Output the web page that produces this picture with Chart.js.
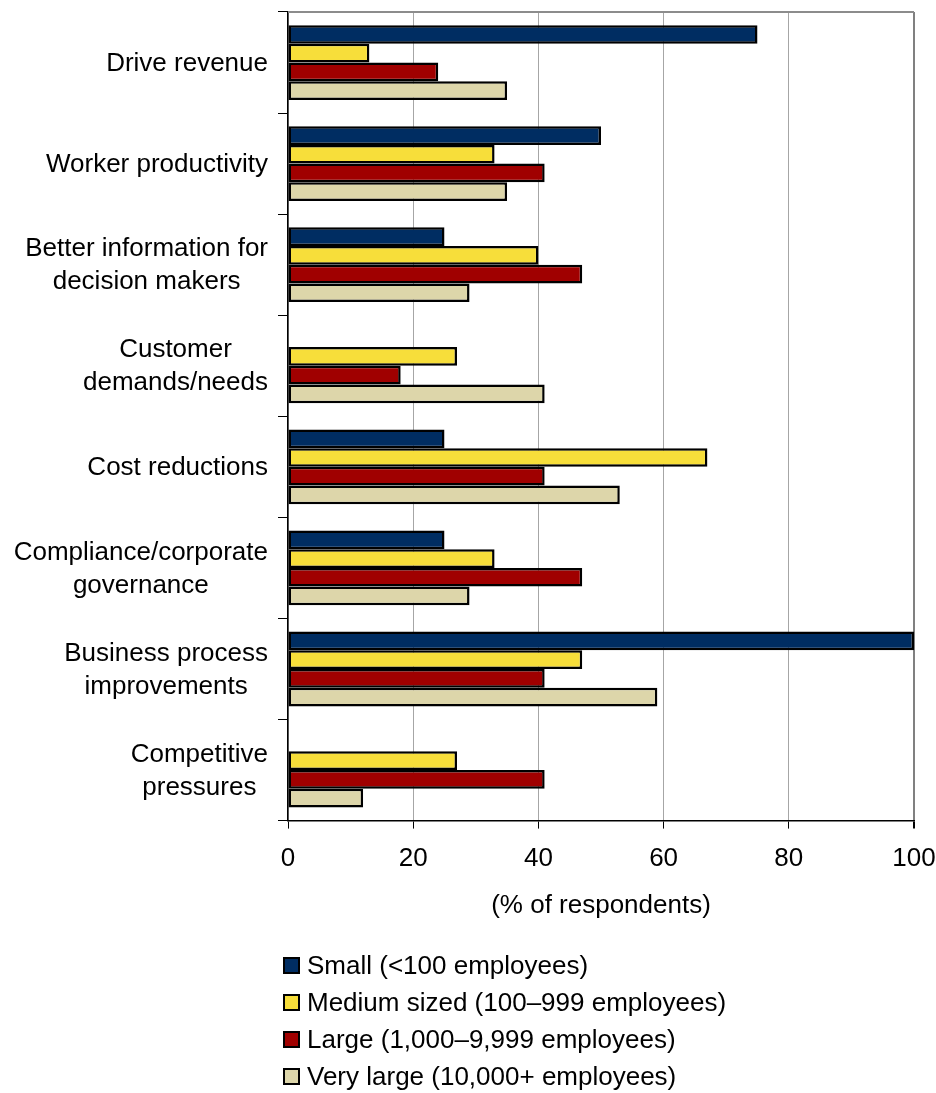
<!DOCTYPE html>
<html>
<head>
<meta charset="utf-8">
<script src="https://cdn.jsdelivr.net/npm/chart.js@4/dist/chart.umd.min.js"></script>
<style>
  body { margin: 0; background: #fff; }
  #wrap { width: 936px; height: 1093px; position: relative; }
</style>
</head>
<body>
<div id="wrap"><canvas id="chart"></canvas></div>
<script>
const categories = [
  ["Drive revenue"],
  ["Worker productivity"],
  ["Better information for", "decision makers"],
  ["Customer", "demands/needs"],
  ["Cost reductions"],
  ["Compliance/corporate", "governance"],
  ["Business process", "improvements"],
  ["Competitive", "pressures"]
];
const seriesNames = [
  "Small (<100 employees)",
  "Medium sized (100\u2013999 employees)",
  "Large (1,000\u20139,999 employees)",
  "Very large (10,000+ employees)"
];
const small     = [75, 50, 25, null, 25, 25, 100, null];
const medium    = [13, 33, 40, 27, 67, 33, 47, 27];
const large     = [24, 41, 47, 18, 41, 47, 41, 41];
const veryLarge = [35, 35, 29, 41, 53, 29, 59, 12];
const xTicks = [0, 20, 40, 60, 80, 100];
const colors = ["#002d62", "#f7de3a", "#a00000", "#ddd6aa"];

const FONT = "Liberation Sans, Arial, sans-serif";

// category labels: lines centred on each other, block right-aligned to the axis
const catLabels = {
  id: "catLabels",
  afterDraw(chart) {
    const ctx = chart.ctx;
    const y = chart.scales.y;
    const right = chart.chartArea.left - 20;
    const lh = 33;
    ctx.save();
    ctx.font = "26px " + FONT;
    ctx.fillStyle = "#000";
    ctx.textAlign = "center";
    ctx.textBaseline = "middle";
    chart.data.labels.forEach((lines, i) => {
      const cy = y.getPixelForTick(i) + 1;
      const w = Math.max(...lines.map(l => ctx.measureText(l).width));
      const cx = right - w / 2;
      lines.forEach((l, j) => {
        ctx.fillText(l, cx, cy + (j - (lines.length - 1) / 2) * lh);
      });
    });
    ctx.restore();
  }
};

// gray top border of the plot
const frame = {
  id: "frame",
  beforeDatasetsDraw(chart) {
    const { ctx, chartArea: a } = chart;
    ctx.save();
    ctx.strokeStyle = "#8c8c8c";
    ctx.lineWidth = 2;
    ctx.beginPath();
    ctx.moveTo(a.left, a.top);
    ctx.lineTo(a.right, a.top);
    ctx.stroke();
    ctx.restore();
  }
};

// legend drawn as a single column under the axis title
const columnLegend = {
  id: "columnLegend",
  afterDraw(chart) {
    const ctx = chart.ctx;
    const top = chart.height - 127;
    ctx.save();
    ctx.font = "26px " + FONT;
    ctx.textBaseline = "middle";
    ctx.textAlign = "left";
    chart.data.datasets.forEach((ds, i) => {
      const cy = top + i * 37;
      ctx.fillStyle = ds.backgroundColor;
      ctx.fillRect(284, cy - 8, 15, 15);
      ctx.strokeStyle = "#000";
      ctx.lineWidth = 2;
      ctx.strokeRect(284, cy - 8, 15, 15);
      ctx.fillStyle = "#000";
      ctx.fillText(ds.label, 307, cy + 1);
    });
    ctx.restore();
  }
};

new Chart(document.getElementById("chart"), {
  type: "bar",
  data: {
    labels: categories,
    datasets: [small, medium, large, veryLarge].map((d, i) => ({
      label: seriesNames[i],
      data: d,
      backgroundColor: colors[i],
      borderColor: "#000",
      borderWidth: 2.5,
      borderSkipped: false,
      categoryPercentage: 0.74,
      barPercentage: 1.0
    }))
  },
  options: {
    indexAxis: "y",
    responsive: true,
    maintainAspectRatio: false,
    animation: false,
    layout: { padding: { top: 12, right: 22, left: 0, bottom: 171 } },
    plugins: {
      legend: { display: false },
      tooltip: { enabled: false }
    },
    scales: {
      x: {
        min: 0,
        max: 100,
        afterBuildTicks: s => { s.ticks = xTicks.map(v => ({ value: v })); },
        afterFit: s => { s.paddingRight = 0; s.paddingLeft = 0; },
        grid: {
          color: ctx => ctx.tick && ctx.tick.value === 100 ? "#808080" : "#a6a6a6",
          lineWidth: ctx => ctx.tick && ctx.tick.value === 100 ? 2 : 1,
          tickColor: "#000",
          tickLength: 8
        },
        border: { color: "#000", width: 1.5 },
        ticks: {
          color: "#000",
          padding: 15,
          font: { family: FONT, size: 26 }
        },
        title: {
          display: true,
          text: "(% of respondents)",
          color: "#000",
          font: { family: FONT, size: 26 },
          padding: { top: 0, bottom: 1 }
        }
      },
      y: {
        afterFit: s => { s.width = 288; },
        grid: {
          offset: true,
          drawOnChartArea: false,
          color: "#000",
          tickLength: 10
        },
        border: { color: "#000", width: 1.5 },
        ticks: { display: false }
      }
    }
  },
  plugins: [frame, catLabels, columnLegend]
});
</script>
</body>
</html>
